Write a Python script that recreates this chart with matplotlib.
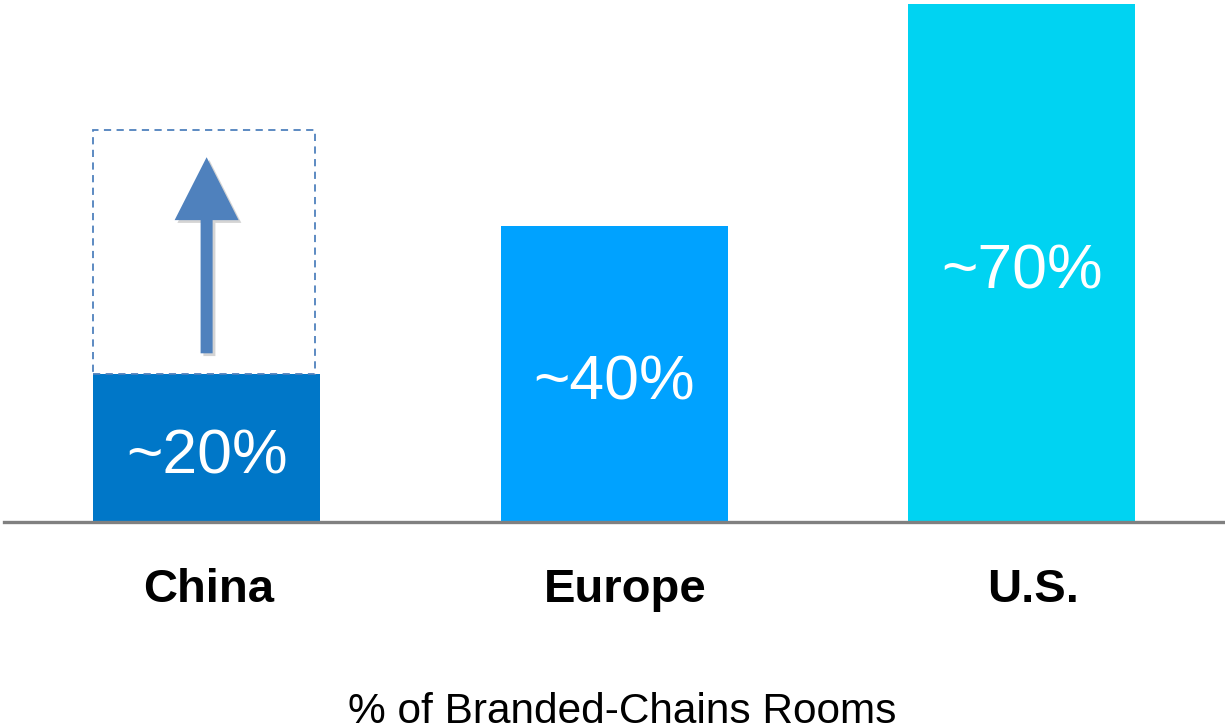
import matplotlib
matplotlib.use("Agg")
import matplotlib.pyplot as plt
from matplotlib.patches import Rectangle, FancyArrow
import matplotlib.patheffects as pe
from matplotlib.transforms import offset_copy

# Data
categories = ["China", "Europe", "U.S."]
shares = [20, 40, 70]
share_labels = ["~20%", "~40%", "~70%"]
china_potential = 53
bar_colors = ["#0077C8", "#00A2FF", "#00D3F2"]
axis_title = "% of Branded-Chains Rooms"

plt.rcParams["font.family"] = ["Liberation Sans", "DejaVu Sans"]

fig = plt.figure(figsize=(12.25, 7.27), dpi=100)
# axes: baseline 522 px from the top, top edge at the figure top
ax = fig.add_axes([0, (727 - 522) / 727, 1, 522 / 727])
ax.set_xlim(-0.507, 2.499)
ax.set_ylim(0, 70.55)
ax.axis("off")

x = list(range(len(categories)))
bar_w = 0.557
ax.bar(x, shares, width=bar_w, color=bar_colors, zorder=2)

# value labels centred inside each bar (baseline a little below mid-height)
for xi, v, lab in zip(x, shares, share_labels):
    ax.text(xi, v / 2 - 3.4, lab, ha="center", va="baseline", color="white",
            fontsize=45, zorder=4)

# category labels under the baseline
label_nudge_px = [2.5, 11.5, 11.5]
for xi, cat, dx in zip(x, categories, label_nudge_px):
    tr = offset_copy(ax.transData, fig=fig, x=dx, y=-80, units="dots")
    ax.text(xi, 0, cat, ha="center", va="baseline", transform=tr,
            fontsize=34, fontweight="bold", color="black", clip_on=False)

# baseline
ax.axhline(0, xmin=4 / 1225, xmax=1, color="#808080", lw=2.4,
           zorder=3, clip_on=False)

# dashed outline of China's growth potential
left = x[0] - bar_w / 2
box = Rectangle((left, shares[0]), 0.545, china_potential - shares[0],
                fill=False, ec="#4F81BD", lw=1.3, ls=(0, (4, 3)), zorder=3)
ax.add_patch(box)

# upward arrow inside the box
arrow = FancyArrow(x[0], 22.8, 0, 49.3 - 22.8, width=0.0295,
                   head_width=0.157, head_length=8.5,
                   length_includes_head=True, color="#4F81BD", lw=0,
                   zorder=3,
                   path_effects=[pe.SimplePatchShadow(offset=(2, -2), alpha=0.25,
                                                      shadow_rgbFace="#555555"),
                                 pe.Normal()])
ax.add_patch(arrow)

fig.text(622 / 1225, 1 - 723 / 727, axis_title, ha="center", va="baseline",
         fontsize=30.5, color="black")

fig.savefig("out.png", dpi=100, facecolor="white")
